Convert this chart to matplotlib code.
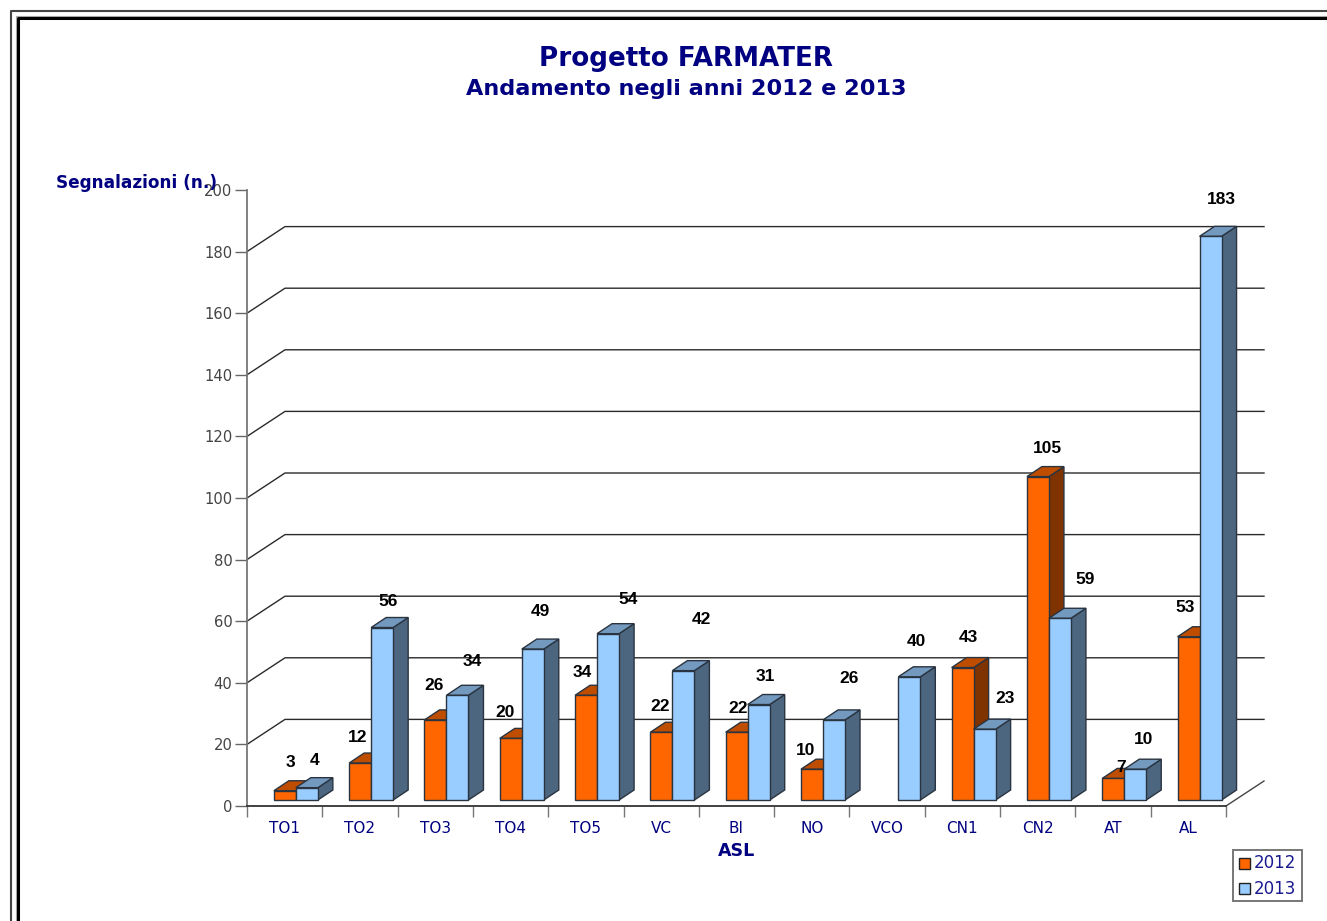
import matplotlib
matplotlib.use("Agg")
import matplotlib.pyplot as plt
from matplotlib.patches import Polygon, Rectangle
from matplotlib.lines import Line2D

# data
asl = ["TO1", "TO2", "TO3", "TO4", "TO5", "VC", "BI", "NO", "VCO", "CN1", "CN2", "AT", "AL"]
val_2012 = [3, 12, 26, 20, 34, 22, 22, 10, None, 43, 105, 7, 53]
val_2013 = [4, 56, 34, 49, 54, 42, 31, 26, 40, 23, 59, 10, 183]
y_ticks = [0, 20, 40, 60, 80, 100, 120, 140, 160, 180, 200]
grid_vals = [20, 40, 60, 80, 100, 120, 140, 160, 180]

# hand placed label centres in pixels, the original scatters them
lab_2012 = [(290, 762), (358, 737), (434, 685), (505, 712), (582, 672), (660, 706), (738, 708),
            (806, 750), None, (968, 637), (1047, 448), (1121, 767), (1185, 607)]
lab_2013 = [(315, 760), (388, 601), (472, 661), (540, 611), (628, 599), (701, 620), (765, 676),
            (849, 678), (916, 642), (1005, 698), (1085, 579), (1144, 739), (1221, 200)]

W, H = 1327, 921
NAVY = "#000080"
fx = lambda px: px / W
fy = lambda px: 1 - px / H

fig = plt.figure(figsize=(W / 100, H / 100), dpi=100, facecolor="white")
left, right, top, bottom = 247, 1226, 190, 806
ax = fig.add_axes([fx(left), fy(bottom), fx(right - left), (bottom - top) / H])
ax.set_xlim(0, 13)
ax.set_ylim(0, 200)
ax.patch.set_visible(False)

# pixel sizes turned into data units
ux = 13 / (right - left)
uy = 200 / (bottom - top)

# back grid, goes off at an angle from the y axis
depth_x, depth_y = 38 * ux, 25 * uy
for v in grid_vals:
    ax.plot([0, depth_x, 13 + depth_x], [v, v + depth_y, v + depth_y], color="#2a2a2a", lw=1, clip_on=False, zorder=1)
ax.plot([13, 13 + depth_x], [0, depth_y], color="#444444", lw=1, clip_on=False, zorder=1)

# bars
bar_w = 22 * ux
bar_dx, bar_dy = 15 * ux, 10 * uy
base = 6 * uy
edge = "#2a3440"


def draw_bar(x, v, front, side, cap, z):
    ax.bar(x, v, bar_w, bottom=base, align="edge", color=front, edgecolor=edge, lw=1, zorder=z + 0.2, clip_on=False)
    t = base + v
    ax.add_patch(Polygon([(x + bar_w, base), (x + bar_w + bar_dx, base + bar_dy), (x + bar_w + bar_dx, t + bar_dy), (x + bar_w, t)],
                         facecolor=side, edgecolor=edge, lw=1, zorder=z, clip_on=False))
    ax.add_patch(Polygon([(x, t), (x + bar_dx, t + bar_dy), (x + bar_w + bar_dx, t + bar_dy), (x + bar_w, t)],
                         facecolor=cap, edgecolor=edge, lw=1, zorder=z, clip_on=False))


for i in range(len(asl)):
    c = i + 0.5
    x0 = c - 10.8 * ux
    if val_2012[i] is not None:
        draw_bar(x0, val_2012[i], "#FF6600", "#7F3300", "#BF4D00", 3 + i * 0.01)
    draw_bar(x0 + bar_w, val_2013[i], "#99CCFF", "#4D6680", "#7399BF", 4 + i * 0.01)

# value labels
for vals, labs in [(val_2012, lab_2012), (val_2013, lab_2013)]:
    for v, pos in zip(vals, labs):
        if v is None:
            continue
        fig.text(fx(pos[0]), fy(pos[1]), str(v), family="Liberation Sans", weight="bold", fontsize=12.5,
                 color="black", ha="center", va="center", zorder=10)

# axes
for s in ["top", "right"]:
    ax.spines[s].set_visible(False)
ax.spines["left"].set_color("#777777")
ax.spines["left"].set_linewidth(1.3)
ax.spines["bottom"].set_color("#333333")
ax.spines["bottom"].set_linewidth(1.3)
ax.set_yticks(y_ticks)
ax.tick_params(axis="y", length=8.6, width=1, color="#666666", labelcolor="#444444", labelsize=10.6, pad=2)
ax.set_xticks(range(14))
ax.set_xticklabels([])
ax.tick_params(axis="x", which="major", length=8, width=1, color="#777777")
ax.set_xticks([i + 0.5 for i in range(13)], minor=True)
ax.set_xticklabels(asl, minor=True)
ax.tick_params(axis="x", which="minor", length=0, labelcolor=NAVY, labelsize=11, pad=11)

# titles
fig.text(fx(686), fy(59), "Progetto FARMATER", family="DejaVu Sans", weight="bold", fontsize=18.8, color=NAVY, ha="center", va="center")
fig.text(fx(686), fy(89), "Andamento negli anni 2012 e 2013", family="DejaVu Sans", weight="bold", fontsize=16.1, color=NAVY, ha="center", va="center")
fig.text(fx(56), fy(183.5), "Segnalazioni (n.)", family="DejaVu Sans", weight="bold", fontsize=12.2, color=NAVY, ha="left", va="center", zorder=10)
fig.text(fx(736.5), fy(851), "ASL", family="DejaVu Sans", weight="bold", fontsize=12.6, color=NAVY, ha="center", va="center")

# legend box
fig.add_artist(Rectangle((fx(1233), fy(900.5)), 69 / W, 51 / H, transform=fig.transFigure, facecolor="white", edgecolor="#777777", lw=1.4))
for year, col, py in [("2012", "#FF6600", 863), ("2013", "#99CCFF", 888.5)]:
    fig.add_artist(Rectangle((fx(1238.5), fy(py + 5.5)), 11 / W, 11 / H, transform=fig.transFigure, facecolor=col, edgecolor="#222222", lw=1))
    fig.text(fx(1254), fy(py), year, family="DejaVu Sans", fontsize=12, color="#1a1a90", ha="left", va="center")

# double page frame, runs off the right and bottom
for xs, ys, col, lw in [([10.5, 10.5, W], [H, 11.5, 11.5], "#444444", 1.5),
                        ([15.5, 15.5, W], [H, 16.5, 16.5], "#aaaaaa", 0.8),
                        ([17.5, 17.5, W], [H, 18.5, 18.5], "#000000", 2.2)]:
    fig.add_artist(Line2D([fx(p) for p in xs], [fy(p) for p in ys], color=col, lw=lw, transform=fig.transFigure))

fig.savefig("out.png", dpi=100)
